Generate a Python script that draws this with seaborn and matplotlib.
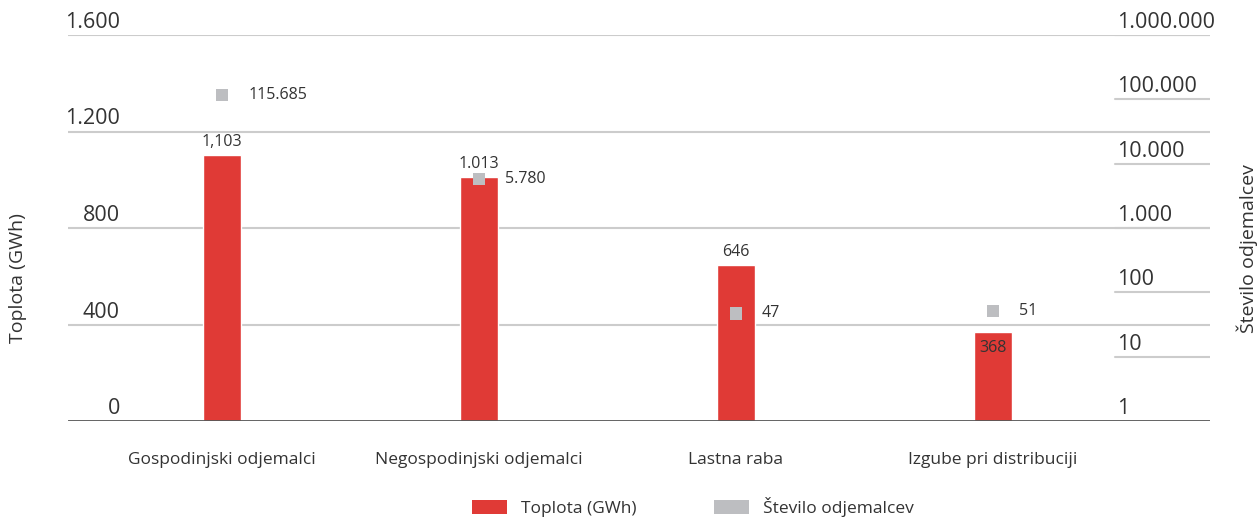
import matplotlib
matplotlib.use("Agg")
import matplotlib.pyplot as plt
import matplotlib.transforms as mtransforms
from matplotlib.patches import Patch
import seaborn as sns
import pandas as pd

# data
categories = ["Gospodinjski odjemalci", "Negospodinjski odjemalci",
              "Lastna raba", "Izgube pri distribuciji"]
heat_gwh = [1103, 1013, 646, 368]
heat_labels = ["1,103", "1.013", "646", "368"]
customers = [115685, 5780, 47, 51]
customer_labels = ["115.685", "5.780", "47", "51"]

left_ticks = [0, 400, 800, 1200, 1600]
left_ticklabels = ["0", "400", "800", "1.200", "1.600"]
right_ticks = [1, 10, 100, 1000, 10000, 100000, 1000000]
right_ticklabels = ["1", "10", "100", "1.000", "10.000", "100.000", "1.000.000"]

df = pd.DataFrame({"kategorija": categories, "toplota": heat_gwh,
                   "odjemalci": customers})

red = "#E03A36"
grey = "#BDBEC1"
txt = "#333333"

sns.set_style("white")
plt.rcParams["font.family"] = ["Open Sans", "DejaVu Sans"]

fig = plt.figure(figsize=(12.6, 5.18), dpi=100)
ax = fig.add_axes([68 / 1260, 1 - 421 / 518, 1142 / 1260, 386 / 518])

# bars
sns.barplot(data=df, x="kategorija", y="toplota", color=red, width=0.148,
            saturation=1, ax=ax, zorder=3)
ax.set_ylim(0, 1600)
ax.set_xlim(-0.6, 3.845)
ax.set_xlabel("")
ax.set_ylabel("")
for s in ax.spines.values():
    s.set_visible(False)
ax.set_yticks(left_ticks)
ax.set_yticklabels([])
ax.tick_params(axis="y", length=0)
ax.tick_params(axis="x", length=0, pad=22, labelsize=12.5, labelcolor=txt)
for t in left_ticks[1:]:
    ax.axhline(t, color="#CCCCCC", lw=1.5, zorder=1)

# left tick labels sit above their gridlines
trans_l = mtransforms.blended_transform_factory(ax.transAxes, ax.transData)
for t, lab in zip(left_ticks, left_ticklabels):
    ax.annotate(lab, (0.0455, t), xycoords=trans_l, xytext=(0, 2),
                textcoords="offset pixels", ha="right", va="bottom",
                fontsize=15.5, color=txt)

# bar value labels
for i, (v, lab) in enumerate(zip(heat_gwh, heat_labels)):
    dy = -8 if i == 3 else 5
    ax.annotate(lab, (i, v), xytext=(0, dy), textcoords="offset pixels",
                ha="center", va="top" if i == 3 else "bottom",
                fontsize=11.5, color=txt, zorder=6)

# second axis, log scale, number of customers
ax2 = ax.twinx()
ax2.set_yscale("log")
ax2.set_ylim(1, 1000000)
sns.scatterplot(data=df, x="kategorija", y="odjemalci", marker="s", s=80,
                color=grey, edgecolor="none", ax=ax2, zorder=5)
ax2.set_xlim(-0.6, 3.845)
ax2.set_ylabel("")
ax2.set_xlabel("")
for s in ax2.spines.values():
    s.set_visible(False)
ax2.set_yticks(right_ticks)
ax2.set_yticklabels([])
ax2.minorticks_off()
ax2.tick_params(axis="y", length=0, which="both")
trans_r = mtransforms.blended_transform_factory(ax2.transAxes, ax2.transData)
for t, lab in zip(right_ticks, right_ticklabels):
    if t > 1:
        ax2.axhline(t, xmin=0.917, xmax=1.0, color="#CCCCCC", lw=1.5, zorder=1)
    ax2.annotate(lab, (0.919, t), xycoords=trans_r, xytext=(0, 2),
                 textcoords="offset pixels", ha="left", va="bottom",
                 fontsize=15.5, color=txt)
# baseline on top of everything
ax2.axhline(1, color="#555555", lw=2, zorder=6)

for i, (v, lab) in enumerate(zip(customers, customer_labels)):
    ax2.annotate(lab, (i, v), xytext=(26, 0), textcoords="offset pixels",
                 ha="left", va="center", fontsize=11.5, color=txt)

# axis titles
fig.text(18 / 1260, 1 - 278 / 518, "Toplota (GWh)", rotation=90,
         ha="center", va="center", fontsize=14, color=txt)
fig.text(1247 / 1260, 1 - 249 / 518, "Število odjemalcev", rotation=90,
         ha="center", va="center", fontsize=14, color=txt)

# legend
handles = [Patch(facecolor=red, edgecolor="none", label="Toplota (GWh)"),
           Patch(facecolor=grey, edgecolor="none", label="Število odjemalcev")]
fig.legend(handles=handles, loc="center", bbox_to_anchor=(693 / 1260, 1 - 507 / 518),
           ncol=2, frameon=False, fontsize=12.5, handlelength=2.0,
           handleheight=0.8, handletextpad=0.8, columnspacing=4.5,
           labelcolor=txt)

fig.savefig("out.png", dpi=100)
